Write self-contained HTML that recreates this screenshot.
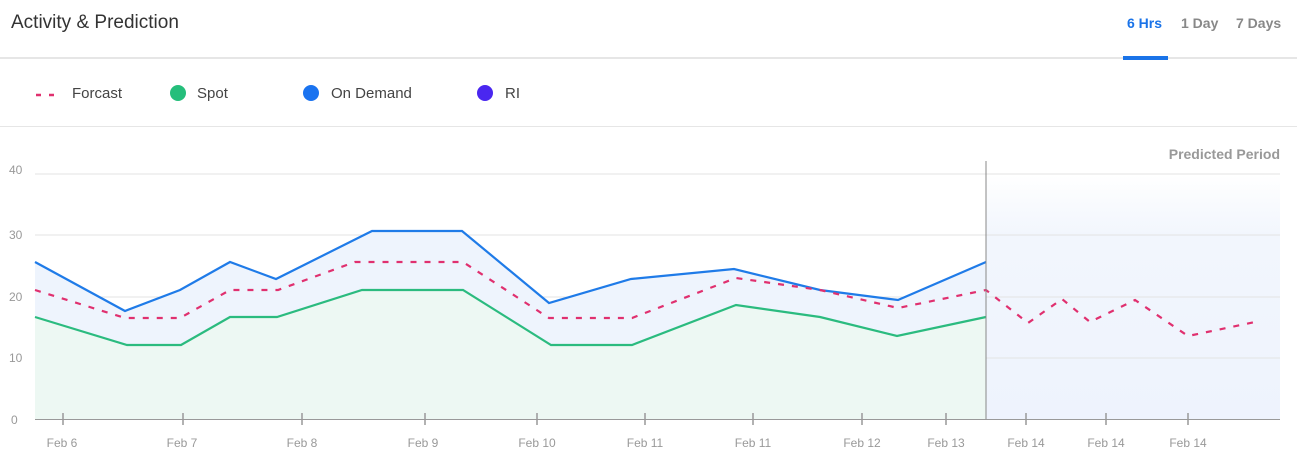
<!DOCTYPE html>
<html><head><style>
body{margin:0;width:1299px;height:463px;background:#fff;font-family:"Liberation Sans",sans-serif;overflow:hidden;position:relative}
.t{position:absolute;left:11px;top:12px;font-size:19px;color:#333}
.tab{position:absolute;top:15px;font-size:14px;font-weight:bold;color:#888}
.hl{position:absolute;left:0;top:57px;width:1297px;height:2px;background:#e6e6e6}
.ul{position:absolute;left:1123px;top:56px;width:45px;height:4px;background:#1a73e8}
.hl2{position:absolute;left:0;top:126px;width:1297px;height:1px;background:#e6e6e6}
.lg{position:absolute;top:85px;font-size:15px;color:#444}
.dot{position:absolute;top:85px;width:16px;height:16px;border-radius:50%}
</style></head><body>
<div class="t">Activity &amp; Prediction</div>
<div class="tab" style="left:1127px;color:#1a73e8">6 Hrs</div>
<div class="tab" style="left:1181px">1 Day</div>
<div class="tab" style="left:1236px">7 Days</div>
<div class="hl"></div><div class="ul"></div>
<svg style="position:absolute;left:36px;top:93px" width="24" height="4"><line x1="0" y1="2" x2="24" y2="2" stroke="#e0306f" stroke-width="2.5" stroke-dasharray="5,8"/></svg>
<div class="lg" style="left:72px">Forcast</div>
<div class="dot" style="left:170px;background:#25be7b"></div><div class="lg" style="left:197px">Spot</div>
<div class="dot" style="left:303px;background:#1a73f0"></div><div class="lg" style="left:331px">On Demand</div>
<div class="dot" style="left:477px;background:#4a27f0"></div><div class="lg" style="left:505px">RI</div>
<div class="hl2"></div>
<svg style="position:absolute;left:0;top:0" width="1299" height="463">
<defs><linearGradient id="g" x1="0" y1="0" x2="0" y2="1"><stop offset="0" stop-color="#f0f5fd" stop-opacity="0"/><stop offset="0.25" stop-color="#f2f6fd"/><stop offset="1" stop-color="#eef3fd"/></linearGradient></defs>
<rect x="986" y="175" width="294" height="244" fill="url(#g)"/>
<g stroke="#e3e3e3" stroke-width="1">
<line x1="35" y1="174" x2="1280" y2="174"/><line x1="35" y1="235" x2="1280" y2="235"/><line x1="35" y1="297" x2="1280" y2="297"/><line x1="35" y1="358" x2="1280" y2="358"/></g>
<g font-size="12" fill="#999" font-family="Liberation Sans,sans-serif">
<text x="9" y="174">40</text><text x="9" y="239">30</text><text x="9" y="301">20</text><text x="9" y="362">10</text><text x="11" y="424">0</text>
<text x="1280" y="159" text-anchor="end" font-size="14" font-weight="bold" fill="#999">Predicted Period</text>
</g>
<polygon fill="#eef4fd" points="35,262 125,311 180,290 230,262 276,279 372,231 462,231 549,303 631,279 734,269 820,290 898,300 986,262 986,419 35,419"/>
<polygon fill="#edf8f3" points="35,317 127,345 181,345 230,317 277,317 362,290 463,290 551,345 632,345 736,305 820,317 897,336 986,317 986,419 35,419"/>
<polyline fill="none" stroke="#1f7be8" stroke-width="2.2" points="35,262 125,311 180,290 230,262 276,279 372,231 462,231 549,303 631,279 734,269 820,290 898,300 986,262"/>
<polyline fill="none" stroke="#2bbb7f" stroke-width="2.2" points="35,317 127,345 181,345 230,317 277,317 362,290 463,290 551,345 632,345 736,305 820,317 897,336 986,317"/>
<polyline fill="none" stroke="#e0306f" stroke-width="2.2" stroke-dasharray="6,8" points="35,290 125,318 180,318 230,290 278,290 355,262 463,262 549,318 632,318 736,278 820,290 898,308 986,290 1028,323 1062,299 1090,322 1135,300 1188,336 1255,322"/>
<line x1="986" y1="161" x2="986" y2="419" stroke="#888" stroke-width="1"/>
<line x1="35" y1="419.5" x2="1280" y2="419.5" stroke="#999" stroke-width="1"/>
<g stroke="#999" stroke-width="1.5">
<line x1="63" y1="413" x2="63" y2="425"/><line x1="183" y1="413" x2="183" y2="425"/><line x1="302" y1="413" x2="302" y2="425"/><line x1="425" y1="413" x2="425" y2="425"/><line x1="537" y1="413" x2="537" y2="425"/><line x1="645" y1="413" x2="645" y2="425"/><line x1="753" y1="413" x2="753" y2="425"/><line x1="862" y1="413" x2="862" y2="425"/><line x1="946" y1="413" x2="946" y2="425"/><line x1="1026" y1="413" x2="1026" y2="425"/><line x1="1106" y1="413" x2="1106" y2="425"/><line x1="1188" y1="413" x2="1188" y2="425"/></g>
<g font-size="12" fill="#999" text-anchor="middle" font-family="Liberation Sans,sans-serif">
<text x="62" y="447">Feb 6</text><text x="182" y="447">Feb 7</text><text x="302" y="447">Feb 8</text><text x="423" y="447">Feb 9</text><text x="537" y="447">Feb 10</text><text x="645" y="447">Feb 11</text><text x="753" y="447">Feb 11</text><text x="862" y="447">Feb 12</text><text x="946" y="447">Feb 13</text><text x="1026" y="447">Feb 14</text><text x="1106" y="447">Feb 14</text><text x="1188" y="447">Feb 14</text>
</g>
</svg>
</body></html>
